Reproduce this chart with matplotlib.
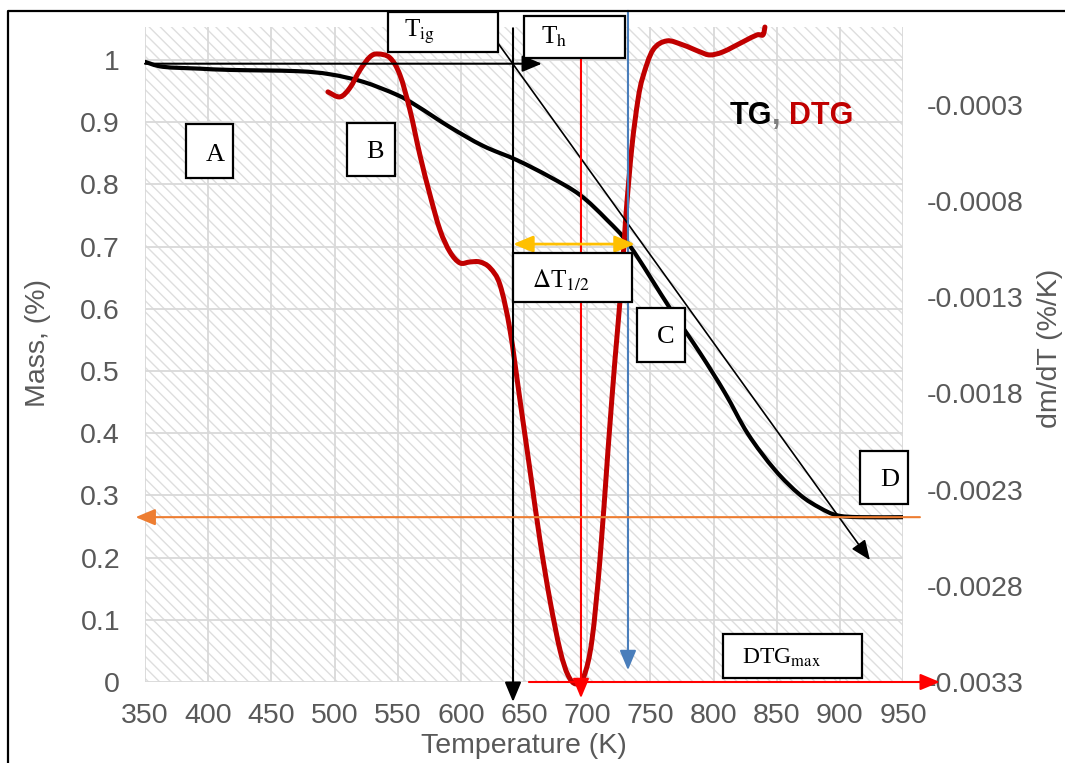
import numpy as np
import matplotlib
matplotlib.use("Agg")
import matplotlib.pyplot as plt
from matplotlib.patches import Rectangle, PathPatch
from matplotlib.path import Path
from matplotlib.lines import Line2D

plt.rcParams['font.family'] = ['Liberation Sans', 'DejaVu Sans']
plt.rcParams['mathtext.fontset'] = 'stix'
plt.rcParams['hatch.linewidth'] = 1.0

# TG curve (temperature K, mass fraction)
tg_T = [350.0, 364.2, 393.5, 417.3, 470.3, 496.4, 522.5, 549.4, 565.3, 591.4,
        617.5, 644.4, 670.5, 694.3, 715.6, 733.9, 765.5, 789.3, 809.0, 827.2,
        848.6, 868.4, 884.2, 897.7, 915.9, 950.0]
tg_m = [0.997, 0.989, 0.986, 0.984, 0.982, 0.977, 0.965, 0.944, 0.926, 0.892,
        0.862, 0.839, 0.812, 0.783, 0.743, 0.701, 0.601, 0.529, 0.465, 0.399,
        0.341, 0.301, 0.280, 0.268, 0.265, 0.265]

# DTG curve (temperature K, dm/dT %/K)
dtg_T = [494.8, 504.3, 512.2, 520.2, 528.1, 534.4, 543.9, 551.8, 559.7, 567.6,
         575.6, 583.5, 591.4, 599.3, 607.2, 615.1, 623.1, 631.0, 638.9, 646.8,
         654.7, 662.6, 670.5, 678.5, 684.8, 691.1, 697.5, 703.8, 710.1, 716.5,
         722.0, 726.7, 730.7, 735.4, 740.2, 744.1, 752.1, 763.1, 775.8, 789.3,
         797.2, 807.5, 823.3, 834.4, 839.1, 840.7]
dtg_v = [-0.000233, -0.000259, -0.000212, -0.000119, -0.000051, -0.000036,
         -0.000056, -0.000145, -0.000327, -0.000561, -0.000769, -0.000951,
         -0.001065, -0.001122, -0.001117, -0.001117, -0.001148, -0.001236,
         -0.001470, -0.001834, -0.002198, -0.002562, -0.002874, -0.003134,
         -0.003264, -0.003310, -0.003269, -0.003082, -0.002666, -0.002094,
         -0.001626, -0.001262, -0.000873, -0.000519, -0.000275, -0.000155,
         -0.000015, 0.000032, 0.000011, -0.000025, -0.000041, -0.000025,
         0.000027, 0.000063, 0.000063, 0.000104]

x_ticks = list(range(350, 951, 50))
y_ticks = [0, 0.1, 0.2, 0.3, 0.4, 0.5, 0.6, 0.7, 0.8, 0.9, 1.0]
y_labels = ['0', '0.1', '0.2', '0.3', '0.4', '0.5', '0.6', '0.7', '0.8', '0.9', '1']
r_ticks = [-0.0033, -0.0028, -0.0023, -0.0018, -0.0013, -0.0008, -0.0003]

GRAY = '#595959'
W, H = 1065, 763


def smooth_line(axis, xs, ys, **kw):
    # excel style smoothed line: bezier through the points (catmull-rom)
    p = np.column_stack([xs, ys]).astype(float)
    n = len(p)
    verts = [p[0]]
    codes = [Path.MOVETO]
    for i in range(n - 1):
        p0 = p[max(i - 1, 0)]
        p1 = p[i]
        p2 = p[i + 1]
        p3 = p[min(i + 2, n - 1)]
        verts += [p1 + (p2 - p0) / 6, p2 - (p3 - p1) / 6, p2]
        codes += [Path.CURVE4] * 3
    patch = PathPatch(Path(verts, codes), fill=False, transform=axis.transData,
                      capstyle='round', joinstyle='round', **kw)
    axis.add_patch(patch)
    return patch


fig = plt.figure(figsize=(W / 100, H / 100), dpi=100)
ax = fig.add_axes([145 / W, 1 - 682 / H, (903 - 145) / W, (682 - 27) / H])
ax.set_xlim(350, 950)
ax.set_ylim(0, 1.053)
ax.patch.set_visible(False)

# hatched plot area
ax.add_patch(Rectangle((0, 0), 1, 1, transform=ax.transAxes, facecolor='white',
                       edgecolor='#DEDEDE', hatch='\\\\\\', lw=0, zorder=0.1))
ax.set_xticks(x_ticks)
ax.set_yticks(y_ticks)
ax.set_yticklabels(y_labels)
ax.grid(color='#D9D9D9', lw=1.3, zorder=0.5)
ax.set_axisbelow(True)
for s in ax.spines.values():
    s.set_visible(False)
ax.tick_params(axis='x', length=0, pad=15, labelsize=20.5, labelcolor=GRAY)
ax.tick_params(axis='y', length=0, pad=18, labelsize=20.5, labelcolor=GRAY)

smooth_line(ax, tg_T, tg_m, edgecolor='black', lw=3, zorder=3)

ax2 = ax.twinx()
top_r = -0.0033 + 1.053 * 622 / 96.2 * 0.0005
ax2.set_ylim(-0.0033, top_r)
ax2.set_yticks(r_ticks)
ax2.set_yticklabels(['%.4f' % v for v in r_ticks])
for s in ax2.spines.values():
    s.set_visible(False)
ax2.tick_params(axis='y', length=0, pad=17, labelsize=20.5, labelcolor=GRAY)
smooth_line(ax2, dtg_T, dtg_v, edgecolor='#C00000', lw=3.6, zorder=3,
            clip_on=False)

td = ax.transData


def arrow(x0, y0, x1, y1, color, lw=1.5, style='-|>'):
    ax2.annotate('', xy=(x1, y1), xytext=(x0, y0), xycoords=td, textcoords=td,
                 arrowprops=dict(arrowstyle=style + ',head_length=0.6,head_width=0.25',
                                 color=color, lw=lw, shrinkA=0, shrinkB=0,
                                 mutation_scale=20),
                 annotation_clip=False, zorder=4)


arrow(350, 0.994, 664.2, 0.994, 'black')
arrow(641.3, 1.051, 641.3, -0.032, 'black')
arrow(629.4, 1.027, 923.8, 0.196, 'black', lw=1.2)
arrow(695.1, 1.003, 695.1, -0.026, '#FF0000')
arrow(732.3, 1.079, 732.3, 0.019, '#4A7EBB')
arrow(653.9, 0.0, 979.2, 0.0, '#FF0000')
arrow(963.4, 0.265, 342.5, 0.265, '#ED7D31')
arrow(641.3, 0.704, 737.8, 0.704, '#FFC000', lw=2, style='<|-|>')

# labelled boxes
boxes = [
    (542.3, 1.013, 629.4, 1.077),
    (650.0, 1.003, 729.9, 1.071),
    (382.4, 0.810, 419.6, 0.897),
    (509.9, 0.814, 547.9, 0.899),
    (641.3, 0.611, 735.5, 0.690),
    (739.4, 0.514, 777.4, 0.601),
    (915.9, 0.286, 953.9, 0.371),
    (807.5, 0.006, 917.5, 0.077),
]
for x0, y0, x1, y1 in boxes:
    ax2.add_patch(Rectangle((x0, y0), x1 - x0, y1 - y0, transform=td,
                            facecolor='white', edgecolor='black', lw=1.6,
                            zorder=5, clip_on=False))

serif = dict(family='Liberation Serif', color='black', zorder=6, transform=td,
             va='center')
ax2.text(555.0, 1.045, r'T$_{\mathrm{ig}}$', fontsize=18, ha='left', **serif)
ax2.text(663.5, 1.037, r'T$_{\mathrm{h}}$', fontsize=18, ha='left', **serif)
ax2.text(405.4, 0.847, 'A', fontsize=19, ha='center', **serif)
ax2.text(532.0, 0.852, 'B', fontsize=19, ha='center', **serif)
ax2.text(762.3, 0.555, 'C', fontsize=19, ha='center', **serif)
ax2.text(939.6, 0.325, 'D', fontsize=19, ha='center', **serif)
ax2.text(656.5, 0.646, r'$\Delta$T$_{1/2}$', fontsize=18, ha='left', **serif)
ax2.text(822.5, 0.039, r'DTG$_{\mathrm{max}}$', fontsize=17, ha='left', **serif)

t1 = ax2.text(813.0, 0.910, 'TG', transform=td, fontsize=22, fontweight='bold',
              color='black', va='center', ha='left', zorder=6)
t2 = ax2.annotate(', ', xy=(1, 0), xycoords=t1, va='bottom', ha='left',
                  fontsize=22, fontweight='bold', color='#7F7F7F', zorder=6)
ax2.annotate('DTG', xy=(1, 0), xycoords=t2, va='bottom', ha='left',
             fontsize=22, fontweight='bold', color='#C00000', zorder=6)

# axis titles
fig.text(38 / W, 1 - 343 / H, 'Mass, (%)', rotation=90, fontsize=20.5,
         color=GRAY, ha='center', va='center')
fig.text(524 / W, 1 - 746 / H, 'Temperature (K)', fontsize=20.5, color=GRAY,
         ha='center', va='center')
fig.text(1050 / W, 1 - 348 / H, 'dm/dT (%/K)', rotation=90, fontsize=20.5,
         color=GRAY, ha='center', va='center')

# outer frame (cropped at right and bottom)
fig.add_artist(Line2D([8 / W, 8 / W, 1], [0, 1 - 11 / H, 1 - 11 / H],
                      transform=fig.transFigure, color='black', lw=1.6))

fig.savefig('out.png', dpi=100)
